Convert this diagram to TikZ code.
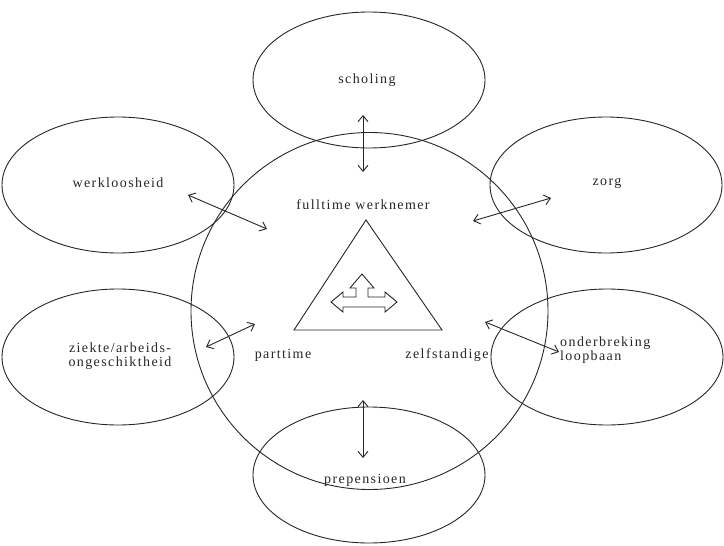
\documentclass[tikz,border=0pt]{standalone}
\usepackage{fontspec}
\setmainfont{Liberation Serif}[LetterSpace=10]
\usetikzlibrary{arrows.meta,shapes.geometric}
\begin{document}
\begin{tikzpicture}[x=1pt,y=-1pt,
  oval/.style={draw=black!85,line width=0.9pt,ellipse,minimum width=232pt,minimum height=136pt,inner sep=0pt},
  lbl/.style={font=\fontsize{14}{16}\selectfont,text=black!85,inner sep=0pt,align=center},
  dbl/.style={draw=black!85,line width=0.9pt,{Straight Barb[length=6pt,width=10pt]}-{Straight Barb[length=6pt,width=10pt]}},
  thin/.style={draw=black!85,line width=0.9pt}]
\useasboundingbox (0,0) rectangle (724,546);
% big circle
\node[thin,circle,minimum size=357pt,inner sep=0pt] (big) at (369.5,311) {};
% outer ellipses
\node[oval] (scholing) at (369,80) {};
\node[oval] (werk) at (118,185) {};
\node[oval] (zorg) at (606,185) {};
\node[oval] (ziekte) at (118,357) {};
\node[oval] (onder) at (607,357) {};
\node[oval] (prep) at (369,475) {};
% labels
\node[lbl] (tscholing) at (367,80) {scholing};
\node[lbl] (twerk) at (118,183) {werkloosheid};
\node[lbl] (tzorg) at (607,183) {zorg};
\node[lbl] (tziekte) at (120,356) {ziekte/arbeids-\\[-2pt]ongeschiktheid};
\node[lbl,align=left,anchor=west] (tonder) at (560,350) {onderbreking\\[-2pt]loopbaan};
\node[lbl] (tprep) at (365,480) {prepensioen};
\node[lbl] (tfull) at (363,205) {fulltime werknemer};
\node[lbl] (tpart) at (283,355) {parttime};
\node[lbl] (tzelf) at (447,355) {zelfstandige};
% triangle
\coordinate (ta) at (366,220);
\coordinate (tb) at (294,330);
\coordinate (tc) at (442,330);
\draw[thin,line join=miter] (ta) -- (tb) -- (tc) -- cycle;
% three-way hollow arrow
\draw[thin,line join=miter]
  (331,302) -- (343,292) -- (343,297) -- (356,297) -- (356,288) -- (350,288)
  -- (362,274) -- (374,288) -- (368,288) -- (368,297) -- (385,297) -- (385,292)
  -- (397,302) -- (385,312) -- (385,307) -- (343,307) -- (343,312) -- cycle;
% connector end points
\coordinate (s1) at (363,115); \coordinate (s2) at (363,172);
\coordinate (p1) at (363,400); \coordinate (p2) at (363,458);
\coordinate (w1) at (188,195); \coordinate (w2) at (267,229);
\coordinate (z1) at (473,221); \coordinate (z2) at (551,198);
\coordinate (k1) at (206,347); \coordinate (k2) at (255,324);
\coordinate (o1) at (485,322); \coordinate (o2) at (559,352);
\draw[dbl] (s1) -- (s2);
\draw[dbl] (p1) -- (p2);
\draw[dbl] (w1) -- (w2);
\draw[dbl] (z1) -- (z2);
\draw[dbl] (k1) -- (k2);
\draw[dbl] (o1) -- (o2);
\end{tikzpicture}
\end{document}
